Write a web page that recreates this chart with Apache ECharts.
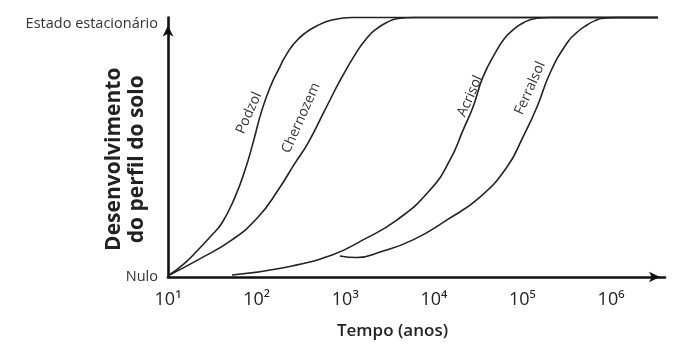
<!DOCTYPE html>
<html>
<head>
<meta charset="utf-8">
<script src="https://cdn.jsdelivr.net/npm/echarts@6/dist/echarts.min.js"></script>
<style>html,body{margin:0;padding:0;background:#fff}#c{width:676px;height:347px}</style>
</head>
<body>
<div id="c"></div>
<script>
// ---- data (time in years, development from 0 = Nulo to 1 = Estado estacionário) ----
const podzolT = [10, 15, 21.8, 30, 40.6, 57, 74, 91, 115, 149, 180, 209, 265, 352, 480, 710, 1195, 3390000];
const podzolV = [0.005, 0.05, 0.104, 0.155, 0.208, 0.308, 0.412, 0.516, 0.644, 0.748, 0.805, 0.848, 0.90, 0.940, 0.968, 0.990, 1, 1];

const chernozemT = [10, 21.8, 52.7, 104, 175, 271, 380, 591, 920, 1394, 1750, 2168, 2900, 3945, 6140, 3390000];
const chernozemV = [0.005, 0.066, 0.143, 0.231, 0.335, 0.439, 0.516, 0.644, 0.771, 0.875, 0.920, 0.952, 0.980, 0.996, 1, 1];

const acrisolT = [52.7, 194, 710, 1589, 3846, 9060, 15240, 21380, 27700, 35900, 51600, 63000, 78300, 105000, 146000, 205000, 3390000];
const acrisolV = [0.008, 0.035, 0.085, 0.143, 0.220, 0.335, 0.451, 0.566, 0.655, 0.771, 0.875, 0.920, 0.952, 0.982, 0.997, 1, 1];

const ferralsolT = [873, 1358, 2471, 5821, 14090, 33200, 67000, 101600, 146000, 205000, 318600, 420000, 535000, 660000, 812000, 1170000, 3390000];
const ferralsolV = [0.081, 0.075, 0.096, 0.143, 0.220, 0.308, 0.424, 0.540, 0.655, 0.786, 0.902, 0.945, 0.971, 0.988, 0.997, 1, 1];

const seriesNames = ['Podzol', 'Chernozem', 'Acrisol', 'Ferralsol'];
// label anchor positions (data coords) for curve names
const labelT = [82, 317, 25600, 122000];
const labelV = [0.632, 0.613, 0.697, 0.728];

const xTickLabels = {1: '10¹', 2: '10²', 3: '10³', 4: '10⁴', 5: '10⁵', 6: '10⁶'};
const yTickLabels = {0: 'Nulo', 1: 'Estado estacionário'};
const xName = 'Tempo (anos)';
const yName = 'Desenvolvimento\ndo perfil do solo';

const FONT = '"Open Sans", "Noto Sans", sans-serif';

function pairs(t, v) { return t.map((x, i) => [x, v[i]]); }
const allT = [podzolT, chernozemT, acrisolT, ferralsolT];
const allV = [podzolV, chernozemV, acrisolV, ferralsolV];

const chart = echarts.init(document.getElementById('c'), null, {renderer: 'canvas'});
chart.setOption({
  animation: false,
  backgroundColor: '#fff',
  grid: {left: 168, right: 11, top: 17.5, bottom: 70, containLabel: false, outerBoundsMode: 'none'},
  xAxis: {
    type: 'log', logBase: 10, min: 10, max: 4064000,
    name: xName, nameLocation: 'middle', nameGap: 46, nameMoveOverlap: false,
    nameTextStyle: {fontFamily: FONT, fontSize: 17, fontWeight: 600, color: '#222', padding: [0, 48, 0, 0]},
    axisLine: {show: true, symbol: ['none', 'arrow'], symbolSize: [8, 11], symbolOffset: [0, -5],
      lineStyle: {color: '#111', width: 2.6}},
    axisTick: {show: false},
    splitLine: {show: false},
    axisLabel: {
      showMaxLabel: false, margin: 14, fontFamily: FONT, fontSize: 18, color: '#222',
      formatter: function (v) {
        const e = Math.round(Math.log10(v));
        return Math.abs(Math.log10(v) - e) < 1e-6 && xTickLabels[e] ? xTickLabels[e] : '';
      }
    }
  },
  yAxis: {
    type: 'value', min: 0, max: 1, interval: 1,
    name: yName, nameLocation: 'middle', nameRotate: 90, nameGap: 19, nameMoveOverlap: false,
    nameTextStyle: {fontFamily: FONT, fontSize: 21, fontWeight: 'bold', color: '#222', lineHeight: 23, padding: [0, 24, 0, 0]},
    axisLine: {show: true, symbol: ['none', 'arrow'], symbolSize: [8, 11], symbolOffset: [0, -8],
      lineStyle: {color: '#111', width: 2.6}},
    axisTick: {show: false},
    splitLine: {show: false},
    axisLabel: {
      margin: 10, fontFamily: FONT, fontSize: 14.5, color: '#333',
      formatter: function (v) { return v === 1 ? '{top|' + yTickLabels[1] + '}' : yTickLabels[v]; },
      rich: {top: {fontFamily: FONT, fontSize: 14.5, color: '#333', padding: [12, 0, 0, 0]}}
    }
  },
  series: allT.map((t, i) => ({
    type: 'line',
    name: seriesNames[i],
    data: pairs(t, allV[i]),
    smooth: 0.5,
    showSymbol: false,
    clip: false,
    lineStyle: {color: '#222', width: 1.6},
    markPoint: {
      symbol: 'circle', symbolSize: 1, itemStyle: {color: 'rgba(0,0,0,0)'},
      label: {show: true, position: 'inside', rotate: 66, fontFamily: FONT, fontSize: 14, color: '#333',
        formatter: seriesNames[i]},
      data: [{coord: [labelT[i], labelV[i]]}]
    }
  }))
});
</script>
</body>
</html>
